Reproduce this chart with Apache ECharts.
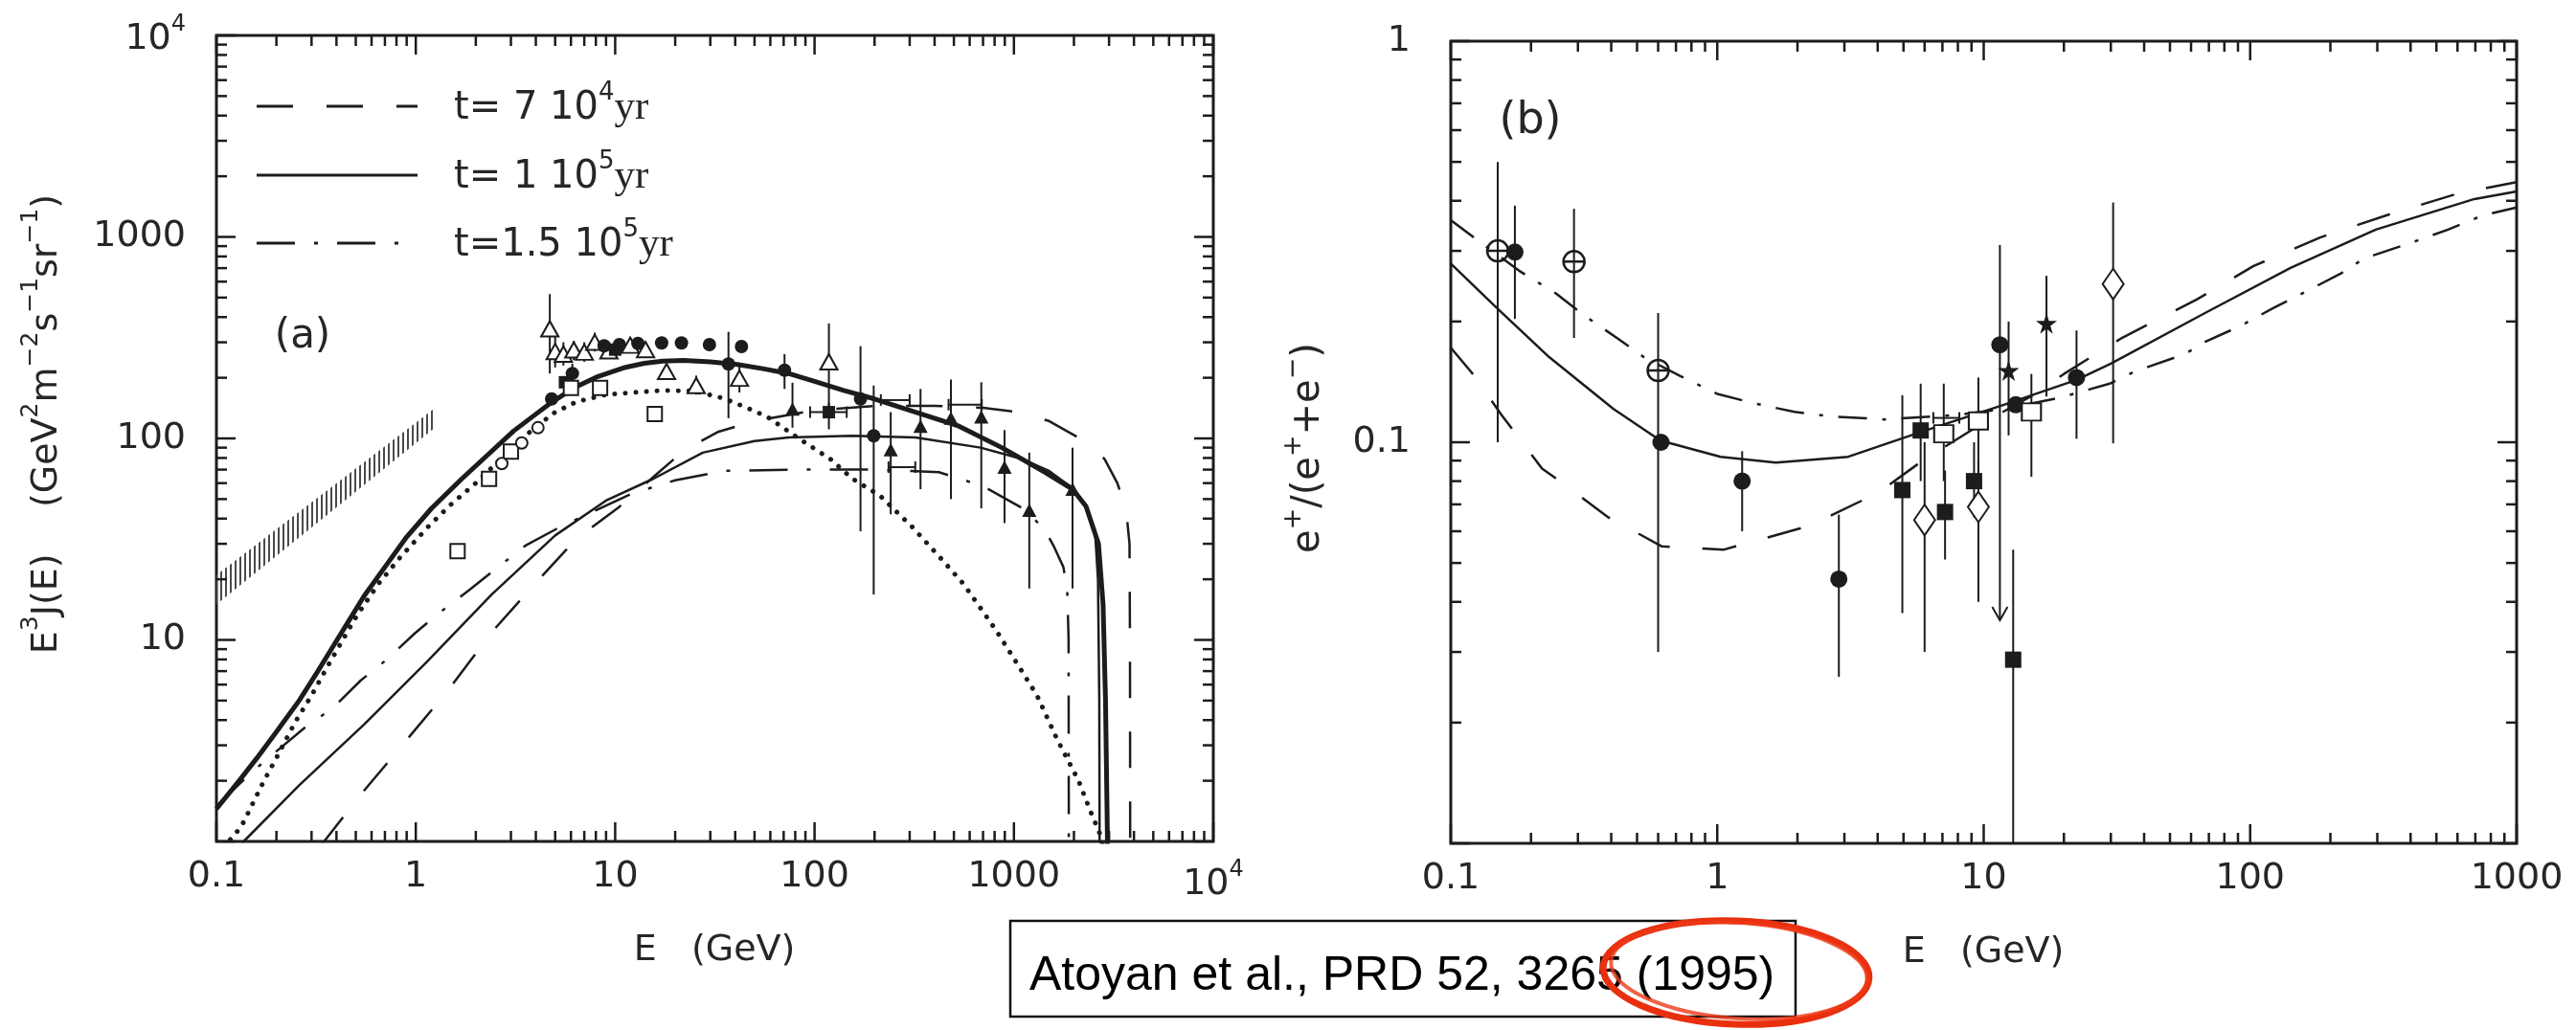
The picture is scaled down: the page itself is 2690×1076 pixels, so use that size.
<!DOCTYPE html>
<html>
<head>
<meta charset="utf-8">
<script src="https://cdn.jsdelivr.net/npm/echarts@6/dist/echarts.min.js"></script>
<style>
  html, body { margin: 0; padding: 0; background: #fff; }
  #chart { width: 2690px; height: 1076px; }
</style>
</head>
<body>
<div id="chart"></div>
<script>
// ---------- Panel (a): E^3 J(E) electron spectrum ----------
// total spectrum (thick solid)
const spectrumTotal = [[0.1,1.45],[0.13,2.0],[0.16,2.6],[0.2,3.5],[0.26,5.0],[0.32,6.9],[0.39,9.5],[0.47,12.8],[0.55,16.5],[0.7,23],[0.89,32],[1.2,45],[1.7,63],[2.3,83],[3.1,109],[4.0,132],[4.8,151],[6.2,178],[8.2,203],[11,224],[14,236],[17.3,242],[22,244],[30,240],[41,233],[55,222],[74,210],[100,192],[140,173],[200,157],[300,138],[530,115],[870,90],[1430,68],[1970,56],[2300,46],[2655,30],[2800,15],[2880,5],[2950,0.9]];
// background (dotted)
const spectrumBackground = [[0.1,0.85],[0.133,1.18],[0.15,1.5],[0.171,1.95],[0.2,2.6],[0.248,3.9],[0.3,5.3],[0.35,7.0],[0.42,9.6],[0.506,13.2],[0.65,19],[0.83,25.5],[1.17,37],[1.5,47],[2.0,60],[2.7,80],[3.9,112],[5.0,135],[6.4,152],[9,165],[13.3,170],[17,173],[25,172],[35,158],[45,143],[58,128],[82,101],[120,79],[155,63],[213,52],[307,36.6],[436,25],[560,18.9],[812,11.2],[1040,7.6],[1306,5.3],[1650,3.2],[2110,2.0],[2400,1.44],[2700,1.09],[2800,0.95]];
// single source contributions
const source7e4 = [[0.333,0.95],[0.546,1.77],[0.89,3.15],[1.46,5.66],[2.38,10.8],[3.94,18.9],[6.4,31.8],[10.5,45.8],[16,66],[22.4,88],[33,108],[50,122],[100,138],[200,145],[400,145],[700,142],[1000,136],[1500,122],[2100,101],[2850,79],[3300,60],[3650,45],[3800,30],[3820,10],[3830,0.9]];
const source1e5 = [[0.13,0.9],[0.137,1.0],[0.26,1.9],[0.55,3.8],[1.14,7.8],[2.4,16.8],[5,33],[9.1,49.5],[15.5,63],[27.5,85],[50,97],[74,101],[155,103],[321,101],[680,90],[1100,79],[1500,69],[2000,56],[2300,46],[2550,35],[2640,20],[2680,5],[2690,0.9]];
const source15e5 = [[0.1,1.5],[0.15,2.2],[0.2,2.8],[0.28,3.7],[0.385,4.6],[0.53,6.3],[0.716,8.0],[0.99,10.8],[1.36,14],[1.87,17.8],[2.53,22.6],[3.55,29.4],[5.2,36],[8,44],[12,53],[20,62],[35,69],[80,70],[200,70],[420,68],[700,58],[1150,44],[1430,35],[1590,29],[1770,23],[1850,18],[1880,10],[1885,0.9]];
// hatched band at low energy
const hatchBandE = [0.1, 1.23];
const hatchBandLow = [15, 112];
const hatchBandHigh = [21, 140];
// measurements: [E, value, errLow, errHigh]
const aOpenTriangles = [[4.7,350,210,520],[5.0,270,225,330],[5.5,262,230,300],[6.2,275,245,305],[7.0,268,240,300],[7.9,300,270,335],[9.3,272,250,295],[11.9,290,265,315],[14.2,276,255,300],[18.1,215,195,235],[25.5,183,165,205],[42,199,169,227],[118,240,131,372]];
const aFilledCircles = [[4.8,157,null,null],[6.1,210,185,235],[8.8,288,null,null],[10.5,292,null,null],[13,296,null,null],[17.1,298,null,null],[21.5,298,null,null],[29.7,292,null,null],[43,286,null,null],[37,234,126,338],[70.7,218,176,262],[170,157,34.6,287],[198,103,16.8,183]];
const aFilledTriangles = [[77.5,140,113,189],[241,88,42,135],[340,115,56,176],[483,126,50,196],[686,128,45,190],[897,72,38,110],[1194,44,18,85],[1968,56,18,90]];
const aFilledSquares = [[5.6,190,null,null],[10,276,null,null],[118,135,111,150]];
const aOpenSquares = [[1.62,27.6],[2.33,63],[3.0,86],[6.0,178],[8.4,178],[15.8,132]];
const aOpenCircles = [[2.7,75],[3.4,95],[4.1,113]];
// energy-bin bars: [Elow, Ehigh, value]
const aBinBars = [[95,145,135],[215,300,155],[470,690,147],[235,320,72]];

// ---------- Panel (b): positron fraction ----------
const fraction7e4 = [[0.1,0.172],[0.12,0.149],[0.155,0.117],[0.22,0.086],[0.263,0.079],[0.39,0.065],[0.62,0.055],[1.06,0.054],[2.24,0.062],[4.04,0.075],[5.9,0.09],[10,0.112],[15,0.13],[20,0.148],[33,0.182],[63,0.227],[103,0.275],[183,0.324],[341,0.372],[603,0.417],[1000,0.445]];
const fraction1e5 = [[0.1,0.279],[0.15,0.215],[0.234,0.163],[0.408,0.121],[0.612,0.101],[1.03,0.092],[1.66,0.089],[3.1,0.092],[5.8,0.106],[11.9,0.124],[22.3,0.143],[30,0.157],[67.7,0.21],[141.7,0.272],[296,0.339],[694,0.404],[1000,0.422]];
const fraction15e5 = [[0.1,0.358],[0.12,0.327],[0.18,0.268],[0.248,0.235],[0.32,0.206],[0.42,0.182],[0.53,0.163],[0.73,0.146],[1.0,0.132],[1.38,0.125],[1.95,0.119],[2.68,0.116],[4.25,0.114],[8,0.117],[12,0.121],[19.2,0.129],[29.7,0.14],[36.8,0.15],[57,0.166],[67.7,0.178],[92,0.195],[122,0.216],[167,0.24],[220,0.264],[267,0.287],[405,0.315],[553,0.339],[747,0.368],[1000,0.385]];
const bThetas = [[0.15,0.30,0.10,0.50],[0.29,0.282,0.182,0.382],[0.6,0.151,0.03,0.21]];
const bFilledCircles = [[0.174,0.298,0.203,0.389],[0.615,0.1,null,null],[1.24,0.08,0.06,0.095],[2.86,0.0456,0.026,0.066],[13.2,0.124,null,null],[22.3,0.145,0.102,0.19]];
// upper limit: [E, value, barTop, arrowTip]
const bUpperLimits = [[11.5,0.175,0.31,0.036]];
const bFilledSquares = [[4.95,0.076,0.0375,0.131],[5.8,0.107,0.08,0.14],[7.16,0.067,0.051,0.085],[9.2,0.08,0.065,0.1],[12.9,0.0287,0.009,0.054]];
const bOpenDiamonds = [[6.0,0.064,0.03,0.1],[9.55,0.069,0.04,0.09],[30.6,0.248,0.0994,0.396]];
const bOpenSquares = [[7.08,0.105,0.08,0.14],[9.55,0.113,0.085,0.145],[15.1,0.119,0.082,0.148]];
const bStars = [[12.4,0.151,0.104,0.20],[17.2,0.198,0.13,0.26]];
const bBinBars = [[6.47,8.1,0.115]];

// axis ranges and tick labels
const aXRange = [0.1, 10000], aYRange = [1, 10000];
const bXRange = [0.1, 1000], bYRange = [0.01, 1];
const aXLabels = {'-1':'0.1','0':'1','1':'10','2':'100','3':'1000','4':'{n|10}{s|4}'};
const aYLabels = {'0':'','1':'10','2':'100','3':'1000','4':'{n|10}{s|4}'};
const bXLabels = {'-1':'0.1','0':'1','1':'10','2':'100','3':'1000'};
const bYLabels = {'-2':'','-1':'0.1','0':'1'};

const INK = '#1c1c1c';
const FONT = 'DejaVu Sans';

function decadeTicks(lo, hi) {
  const out = [];
  const e0 = Math.round(Math.log10(lo)), e1 = Math.round(Math.log10(hi));
  for (let e = e0; e <= e1; e++) {
    const base = Math.pow(10, e);
    out.push([base, 1]);
    if (e < e1) for (let m = 2; m <= 9; m++) out.push([m * base, 0]);
  }
  return out;
}

function tickSeries(idx, axis, range, ref) {
  return {
    type: 'custom', xAxisIndex: idx, yAxisIndex: idx, clip: false, silent: true, z: 6,
    data: decadeTicks(range[0], range[1]).map(t => axis === 'x' ? [t[0], ref, t[1]] : [ref, t[0], t[1]]),
    encode: { x: 0, y: 1 },
    renderItem: (params, api) => {
      const cs = params.coordSys;
      const L = api.value(2) === 1 ? 20 : 11;
      const st = { stroke: INK, lineWidth: 2.5 };
      const p = api.coord([api.value(0), api.value(1)]);
      if (axis === 'x') {
        const yb = cs.y + cs.height, yt = cs.y;
        return { type: 'group', children: [
          { type: 'line', shape: { x1: p[0], y1: yb, x2: p[0], y2: yb - L }, style: st },
          { type: 'line', shape: { x1: p[0], y1: yt, x2: p[0], y2: yt + L }, style: st }
        ]};
      }
      const xl = cs.x, xr = cs.x + cs.width;
      return { type: 'group', children: [
        { type: 'line', shape: { x1: xl, y1: p[1], x2: xl + L, y2: p[1] }, style: st },
        { type: 'line', shape: { x1: xr, y1: p[1], x2: xr - L, y2: p[1] }, style: st }
      ]};
    }
  };
}

function curve(idx, data, width, type, cap) {
  return {
    type: 'line', xAxisIndex: idx, yAxisIndex: idx, data: data, showSymbol: false, symbol: 'none',
    smooth: false, clip: true, silent: true, z: 2,
    lineStyle: { color: INK, width: width, type: type, cap: cap || 'butt', join: 'round' }
  };
}

function errorBars(idx, pts) {
  return {
    type: 'custom', xAxisIndex: idx, yAxisIndex: idx, clip: true, silent: true, z: 3,
    data: pts.filter(p => p[2] != null).map(p => [p[0], p[2], p[3]]),
    encode: { x: 0, y: [1, 2] },
    renderItem: (params, api) => {
      const a = api.coord([api.value(0), api.value(1)]);
      const b = api.coord([api.value(0), api.value(2)]);
      return { type: 'line', shape: { x1: a[0], y1: a[1], x2: b[0], y2: b[1] }, style: { stroke: INK, lineWidth: 2 } };
    }
  };
}

function binBars(idx, bars) {
  return {
    type: 'custom', xAxisIndex: idx, yAxisIndex: idx, clip: true, silent: true, z: 3,
    data: bars, encode: { x: [0, 1], y: 2 },
    renderItem: (params, api) => {
      const a = api.coord([api.value(0), api.value(2)]);
      const b = api.coord([api.value(1), api.value(2)]);
      const st = { stroke: INK, lineWidth: 2 };
      return { type: 'group', children: [
        { type: 'line', shape: { x1: a[0], y1: a[1], x2: b[0], y2: b[1] }, style: st },
        { type: 'line', shape: { x1: a[0], y1: a[1] - 6, x2: a[0], y2: a[1] + 6 }, style: st },
        { type: 'line', shape: { x1: b[0], y1: b[1] - 6, x2: b[0], y2: b[1] + 6 }, style: st }
      ]};
    }
  };
}

// hollow markers keep a white fill with a dark outline
function markers(idx, pts, symbol, size, hollow) {
  return {
    type: 'scatter', xAxisIndex: idx, yAxisIndex: idx, silent: true, z: 4,
    data: pts.map(p => [p[0], p[1]]), symbol: symbol, symbolSize: size,
    itemStyle: hollow === 'path'
      ? { color: 'transparent', borderColor: INK, borderWidth: 2.5, opacity: 1 }
      : hollow
        ? { color: INK, borderColor: INK, borderWidth: 2.5, opacity: 1 }
        : { color: INK, borderWidth: 0, opacity: 1 }
  };
}

const STAR = 'path://M50,0 L61,35 L98,35 L68,57 L79,91 L50,70 L21,91 L32,57 L2,35 L39,35 Z';
const THETA = 'path://M0,10 A10,10 0 1 1 20,10 A10,10 0 1 1 0,10 Z M0,10 L20,10';

// stripe pattern for the hatched band
const hatch = document.createElement('canvas');
hatch.width = 5; hatch.height = 5;
const hctx = hatch.getContext('2d');
hctx.fillStyle = '#4a4a4a';
hctx.fillRect(0, 0, 2, 5);

const axisLabelStyle = {
  color: '#262626', fontFamily: FONT, fontSize: 38,
  rich: {
    n: { fontFamily: FONT, fontSize: 38, color: '#262626', lineHeight: 46, verticalAlign: 'bottom' },
    s: { fontFamily: FONT, fontSize: 24, color: '#262626', lineHeight: 24, verticalAlign: 'top' }
  }
};

function logAxis(idx, range, labels, margin) {
  return {
    type: 'log', logBase: 10, gridIndex: idx, min: range[0], max: range[1],
    axisLine: { show: false }, axisTick: { show: false }, splitLine: { show: false },
    axisLabel: Object.assign({}, axisLabelStyle, {
      margin: margin, showMinLabel: true, showMaxLabel: true, hideOverlap: false, interval: 0,
      formatter: v => { const k = String(Math.round(Math.log10(v))); return labels[k] !== undefined ? labels[k] : ''; }
    })
  };
}

const titleRich = {
  b: { fontFamily: FONT, fontSize: 38, fill: '#262626', lineHeight: 48, verticalAlign: 'bottom' },
  s: { fontFamily: FONT, fontSize: 25, fill: '#262626', lineHeight: 25, verticalAlign: 'top' }
};
const fracRich = {
  b: { fontFamily: FONT, fontSize: 40, fill: '#262626', lineHeight: 50, verticalAlign: 'bottom' },
  s: { fontFamily: FONT, fontSize: 27, fill: '#262626', lineHeight: 27, verticalAlign: 'top' }
};
const legendRich = {
  b: { fontFamily: FONT, fontSize: 40, fill: '#262626', lineHeight: 50, verticalAlign: 'bottom' },
  s: { fontFamily: FONT, fontSize: 26, fill: '#262626', lineHeight: 26, verticalAlign: 'top' },
  y: { fontFamily: 'Liberation Serif', fontSize: 43, fill: '#262626', lineHeight: 50, verticalAlign: 'bottom' }
};

const chart = echarts.init(document.getElementById('chart'), null, { renderer: 'canvas' });

const legendRows = [
  { y: 111, dash: [38, 35], text: '{b|t= 7 10}{s|4}{y|yr}' },
  { y: 183, dash: 'solid', text: '{b|t= 1 10}{s|5}{y|yr}' },
  { y: 254, dash: [40, 20, 4, 20], text: '{b|t=1.5 10}{s|5}{y|yr}' }
];

const graphics = [];
legendRows.forEach(r => {
  graphics.push({ type: 'line', shape: { x1: 268, y1: r.y, x2: 436, y2: r.y }, style: { stroke: INK, lineWidth: 3, lineDash: r.dash === 'solid' ? null : r.dash } });
  graphics.push({ type: 'text', x: 474, y: r.y - 2, style: { text: r.text, rich: legendRich, verticalAlign: 'middle', align: 'left' } });
});
graphics.push(
  { type: 'text', x: 316, y: 352, style: { text: '(a)', fontFamily: FONT, fontSize: 42, fill: '#262626', align: 'center', verticalAlign: 'middle' } },
  { type: 'text', x: 1598, y: 127, style: { text: '(b)', fontFamily: FONT, fontSize: 46, fill: '#262626', align: 'center', verticalAlign: 'middle' } },
  { type: 'text', x: 44, y: 443, rotation: Math.PI / 2,
    style: { text: '{b|E}{s|3}{b|J(E)    (GeV}{s|2}{b|m}{s|\u22122}{b|s}{s|\u22121}{b|sr}{s|\u22121}{b|)}', rich: titleRich, align: 'center', verticalAlign: 'middle' } },
  { type: 'text', x: 1362, y: 468, rotation: Math.PI / 2,
    style: { text: '{b|e}{s|+}{b|/(e}{s|+}{b|+e}{s|\u2212}{b|)}', rich: fracRich, align: 'center', verticalAlign: 'middle' } },
  { type: 'text', x: 746, y: 993, style: { text: 'E   (GeV)', fontFamily: FONT, fontSize: 38, fill: '#262626', align: 'center', verticalAlign: 'middle' } },
  { type: 'text', x: 2071, y: 995, style: { text: 'E   (GeV)', fontFamily: FONT, fontSize: 38, fill: '#262626', align: 'center', verticalAlign: 'middle' } },
  { type: 'rect', shape: { x: 1055, y: 962, width: 820, height: 100 }, style: { fill: '#fff', stroke: '#111', lineWidth: 2.5 }, z: 10 },
  { type: 'text', x: 1075, y: 1020, z: 11, style: { text: 'Atoyan et al., PRD 52, 3265 (1995)', fontFamily: 'Liberation Sans', fontSize: 50, fill: '#000', align: 'left', verticalAlign: 'middle' } },
  { type: 'ellipse', x: 1813, y: 1016, rotation: -0.04, z: 12, shape: { cx: 0, cy: 0, rx: 139, ry: 54 }, style: { fill: 'none', stroke: '#e8300f', lineWidth: 7 } },
  { type: 'ellipse', x: 1816, y: 1014, rotation: -0.07, z: 12, shape: { cx: 0, cy: 0, rx: 134, ry: 50 }, style: { fill: 'none', stroke: '#ee3a18', lineWidth: 4, opacity: 0.8 } }
);

chart.setOption({
  animation: false,
  backgroundColor: '#fff',
  grid: [
    { left: 226, top: 37, width: 1041, height: 842, show: true, borderColor: INK, borderWidth: 3, backgroundColor: 'transparent' },
    { left: 1515, top: 43, width: 1113, height: 838, show: true, borderColor: INK, borderWidth: 3, backgroundColor: 'transparent' }
  ],
  xAxis: [ logAxis(0, aXRange, aXLabels, 18), logAxis(1, bXRange, bXLabels, 18) ],
  yAxis: [ logAxis(0, aYRange, aYLabels, 32), logAxis(1, bYRange, bYLabels, 42) ],
  graphic: graphics,
  series: [
    // panel (a)
    {
      type: 'custom', xAxisIndex: 0, yAxisIndex: 0, silent: true, z: 1, clip: true,
      data: hatchBandE.map((e, i) => [e, hatchBandLow[i], hatchBandHigh[i]]),
      encode: { x: 0, y: [1, 2] },
      renderItem: (params, api) => {
        if (params.dataIndex !== 0) return null;
        const up = hatchBandE.map((e, i) => api.coord([e, hatchBandHigh[i]]));
        const lo = hatchBandE.map((e, i) => api.coord([e, hatchBandLow[i]])).reverse();
        return { type: 'polygon', shape: { points: up.concat(lo) }, style: { fill: { image: hatch, repeat: 'repeat' } } };
      }
    },
    curve(0, spectrumTotal, 5, 'solid'),
    curve(0, spectrumBackground, 5, [0.1, 11], 'round'),
    curve(0, source7e4, 2.5, [38, 35]),
    curve(0, source1e5, 2.5, 'solid'),
    curve(0, source15e5, 2.5, [40, 20, 4, 20]),
    errorBars(0, aOpenTriangles), errorBars(0, aFilledCircles), errorBars(0, aFilledTriangles), errorBars(0, aFilledSquares),
    binBars(0, aBinBars),
    markers(0, aOpenTriangles, 'emptyTriangle', [18, 16], true),
    markers(0, aFilledCircles, 'circle', 14),
    markers(0, aFilledTriangles, 'triangle', [15, 14]),
    markers(0, aFilledSquares, 'rect', 13),
    markers(0, aOpenSquares, 'emptyRect', 15, true),
    markers(0, aOpenCircles, 'emptyCircle', 12, true),
    tickSeries(0, 'x', aXRange, 1), tickSeries(0, 'y', aYRange, 0.1),
    // panel (b)
    curve(1, fraction7e4, 2.5, [36, 34]),
    curve(1, fraction1e5, 2.5, 'solid'),
    curve(1, fraction15e5, 2.5, [30, 16, 4, 16]),
    errorBars(1, bThetas), errorBars(1, bFilledCircles), errorBars(1, bFilledSquares),
    errorBars(1, bOpenDiamonds), errorBars(1, bOpenSquares), errorBars(1, bStars),
    binBars(1, bBinBars),
    {
      type: 'custom', xAxisIndex: 1, yAxisIndex: 1, silent: true, z: 3, clip: true,
      data: bUpperLimits.map(p => [p[0], p[2], p[3]]), encode: { x: 0, y: [1, 2] },
      renderItem: (params, api) => {
        const a = api.coord([api.value(0), api.value(1)]);
        const b = api.coord([api.value(0), api.value(2)]);
        const st = { stroke: INK, lineWidth: 2, fill: 'none' };
        return { type: 'group', children: [
          { type: 'line', shape: { x1: a[0], y1: a[1], x2: b[0], y2: b[1] }, style: st },
          { type: 'polyline', shape: { points: [[b[0] - 8, b[1] - 14], [b[0], b[1]], [b[0] + 8, b[1] - 14]] }, style: st }
        ]};
      }
    },
    markers(1, bThetas, THETA, 22, 'path'),
    markers(1, bFilledCircles.concat(bUpperLimits), 'circle', 18),
    markers(1, bFilledSquares, 'rect', 17),
    markers(1, bOpenDiamonds, 'emptyDiamond', [22, 32], true),
    markers(1, bOpenSquares, 'emptyRect', [20, 18], true),
    markers(1, bStars, STAR, 22),
    tickSeries(1, 'x', bXRange, 0.1), tickSeries(1, 'y', bYRange, 1)
  ]
});
</script>
</body>
</html>
